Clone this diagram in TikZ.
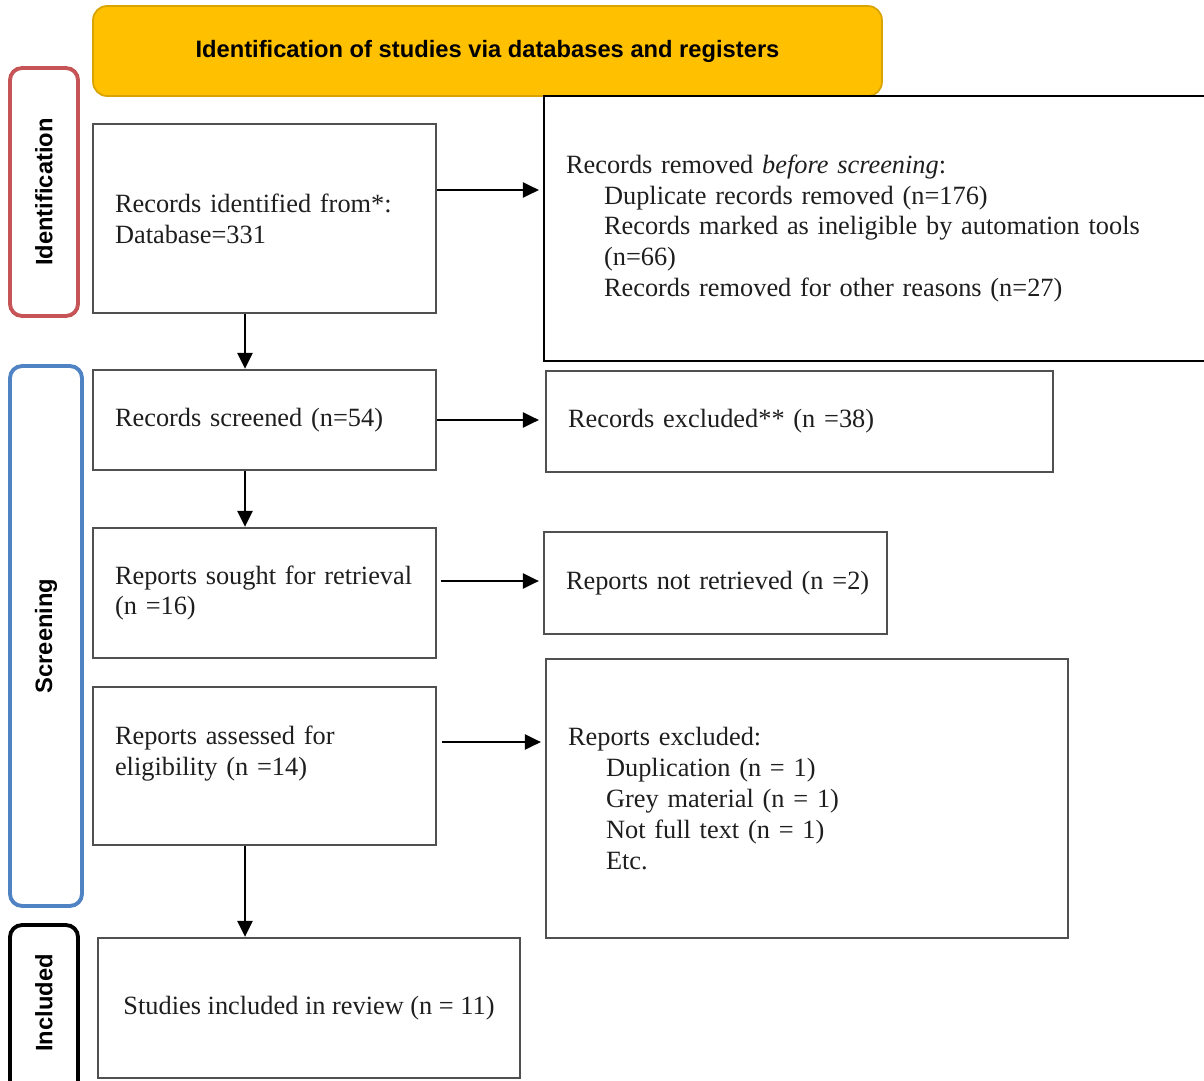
\documentclass[tikz,border=0pt]{standalone}
\usepackage{fontspec}
\setmainfont{Liberation Serif}
\setsansfont{Liberation Sans}
\usetikzlibrary{positioning, arrows.meta}
\definecolor{headfill}{HTML}{FFC000}
\definecolor{headline}{HTML}{D9A300}
\definecolor{idred}{HTML}{C65355}
\definecolor{scrblue}{HTML}{4F83C4}
\definecolor{boxline}{HTML}{505050}
\definecolor{ink}{HTML}{1E1E1E}

\begin{document}
\begin{tikzpicture}[x=0.02cm, y=-0.02cm,
    box/.style={draw=boxline, line width=1.3pt, inner xsep=0.44cm, inner ysep=0pt,
        align=left, text=ink, font=\fontsize{15}{17.6}\selectfont},
    side/.style={line width=2.2pt, rounded corners=0.24cm, rotate=90, inner sep=0pt,
        font=\sffamily\bfseries\fontsize{13.5}{16}\selectfont},
    arr/.style={-{Triangle[length=0.32cm,width=0.3cm]}, line width=1.4pt}]
    % Same size as the reference
    \useasboundingbox (0,0) rectangle (1204,1081);
    \clip (0,0) rectangle (1204,1081);

    % Header and phase labels
    \node[fill=headfill, draw=headline, line width=1pt, rounded corners=0.28cm,
        minimum width=15.78cm, minimum height=1.8cm,
        font=\sffamily\bfseries\fontsize{13.5}{16}\selectfont] (head) at (487.5,51)
        {Identification of studies via databases and registers};
    \node[side, draw=idred, minimum width=4.96cm, minimum height=1.36cm] (idlab) at (44,192) {Identification};
    \node[side, draw=scrblue, minimum width=10.8cm, minimum height=1.44cm] (scrlab) at (46,636) {Screening};
    \node[side, draw=black, minimum width=3.4cm, minimum height=1.36cm] (inclab) at (44,1010) {\hspace*{0.28cm}Included};

    % Main column
    \node[box, text width=5.98cm, minimum height=3.78cm] (idbox) at (264.5,218.5)
        {Records identified from*:\\Database=331};
    \node[box, text width=5.98cm, minimum height=2cm] (screened) at (264.5,420)
        {\mbox{Records screened (n=54)}};
    \node[box, text width=5.98cm, minimum height=2.6cm] (sought) at (264.5,593)
        {\mbox{Reports sought for retrieval}\\(n =16)};
    \node[box, text width=5.98cm, minimum height=3.16cm] (assessed) at (264.5,766)
        {Reports assessed for\\eligibility (n =14)\\\mbox{}};
    \node[box, align=center, minimum width=8.44cm, minimum height=2.8cm] (incl) at (309,1008)
        {Studies included in review (n = 11)};

    % Side column
    \node[box, draw=black, text width=12.84cm, minimum height=5.3cm] (removed) at (887,228.5)
        {Records removed \textit{before screening}:\\
         \hspace*{0.76cm}Duplicate records removed (n=176)\\
         \hspace*{0.76cm}\mbox{Records marked as ineligible by automation tools}\\
         \hspace*{0.76cm}(n=66)\\
         \hspace*{0.76cm}Records removed for other reasons (n=27)};
    \node[box, text width=9.26cm, minimum height=2.02cm] (excl) at (799.5,421.5)
        {\mbox{Records excluded** (n =38)}};
    \node[box, text width=5.98cm, minimum height=2.04cm] (notret) at (715.5,583)
        {\mbox{Reports not retrieved (n =2)}};
    \node[box, text width=9.56cm, minimum height=5.58cm] (repexcl) at (807,798.5)
        {Reports excluded:\\
         \hspace*{0.76cm}Duplication (n = 1)\\
         \hspace*{0.76cm}Grey material (n = 1)\\
         \hspace*{0.76cm}Not full text (n = 1)\\
         \hspace*{0.76cm}Etc.};

    % Arrows down
    \coordinate (d1) at ([xshift=-0.39cm]idbox.south);
    \coordinate (d2) at ([xshift=-0.39cm]screened.south);
    \coordinate (d3) at ([xshift=-0.39cm]assessed.south);
    \draw[arr] (d1) -- (d1 |- screened.north);
    \draw[arr] (d2) -- (d2 |- sought.north);
    \draw[arr] (d3) -- (d3 |- incl.north);

    % Arrows across
    \coordinate (a1) at ([yshift=0.57cm]idbox.east);
    \coordinate (a3) at ([yshift=0.24cm]sought.east);
    \coordinate (a4) at ([yshift=0.48cm]assessed.east);
    \draw[arr, shorten >=0.08cm] (a1) -- (a1 -| removed.west);
    \draw[arr, shorten >=0.12cm] (screened.east) -- (screened.east -| excl.west);
    \draw[arr, shorten <=0.08cm, shorten >=0.08cm] (a3) -- (a3 -| notret.west);
    \draw[arr, shorten <=0.1cm, shorten >=0.08cm] (a4) -- (a4 -| repexcl.west);
\end{tikzpicture}
\end{document}
